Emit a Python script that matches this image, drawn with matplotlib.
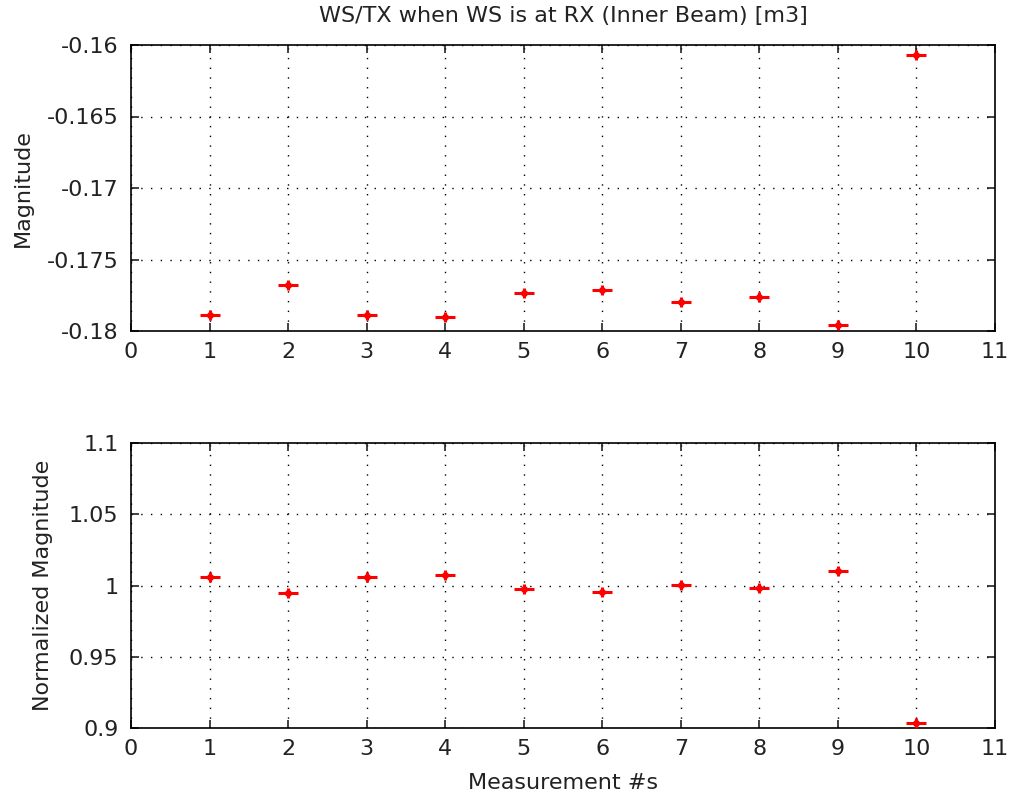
import matplotlib.pyplot as plt
import numpy as np

plt.rcParams['font.family'] = ['DejaVu Sans']

meas = [1, 2, 3, 4, 5, 6, 7, 8, 9, 10]
mag = [-0.17888, -0.17678, -0.1789, -0.1790, -0.17734,
       -0.17713, -0.17797, -0.17762, -0.17958, -0.1607]
norm_mag = [1.006, 0.9947, 1.006, 1.0074, 0.9975,
            0.9956, 1.0004, 0.9982, 1.010, 0.9035]

FS = 16

fig = plt.figure(figsize=(10.13, 7.97), dpi=100)
ax1 = fig.add_axes([131/1013, 1 - 331/797, 864/1013, 286/797])
ax2 = fig.add_axes([131/1013, 1 - 728/797, 864/1013, 285/797])

for ax, y in [(ax1, mag), (ax2, norm_mag)]:
    # small errorbar look: wide horizontal cap, short vertical, dot
    ax.plot(meas, y, linestyle='none', marker='_', color='red',
            markersize=15, markeredgewidth=2.2, zorder=3)
    ax.plot(meas, y, linestyle='none', marker='|', color='red',
            markersize=7, markeredgewidth=2.2, zorder=3)
    ax.plot(meas, y, linestyle='none', marker='o', color='red',
            markersize=4, zorder=3)
    ax.set_xlim(0, 11)
    ax.set_xticks(range(0, 12))
    ax.grid(True, linestyle=(0, (1, 6)), color='black', linewidth=1.0)
    ax.tick_params(direction='in', top=True, right=True, labelsize=FS,
                   length=6, width=1.2, colors='#222222')
    ax.tick_params(axis='y', pad=9)
    ax.tick_params(axis='x', pad=8)
    for s in ax.spines.values():
        s.set_linewidth(1.2)

ax1.set_ylim(-0.18, -0.16)
ax1.set_yticks([-0.18, -0.175, -0.17, -0.165, -0.16])
ax1.set_yticklabels(['-0.18', '-0.175', '-0.17', '-0.165', '-0.16'])
ax1.set_ylabel('Magnitude', fontsize=FS, color='#222222')
ax1.yaxis.set_label_coords(-0.113, 0.5)
ax1.text(0.5, 1.080, 'WS/TX when WS is at RX (Inner Beam) [m3]', fontsize=FS,
         ha='center', va='baseline', color='#222222', transform=ax1.transAxes)

ax2.set_ylim(0.9, 1.1)
ax2.set_yticks([0.9, 0.95, 1.0, 1.05, 1.1])
ax2.set_yticklabels(['0.9', '0.95', '1', '1.05', '1.1'])
ax2.set_ylabel('Normalized Magnitude', fontsize=FS, color='#222222')
ax2.yaxis.set_label_coords(-0.090, 0.5)
ax2.set_xlabel('Measurement #s', fontsize=FS, color='#222222')
ax2.xaxis.set_label_coords(0.5, -0.158)

plt.savefig('out.png', dpi=100)
